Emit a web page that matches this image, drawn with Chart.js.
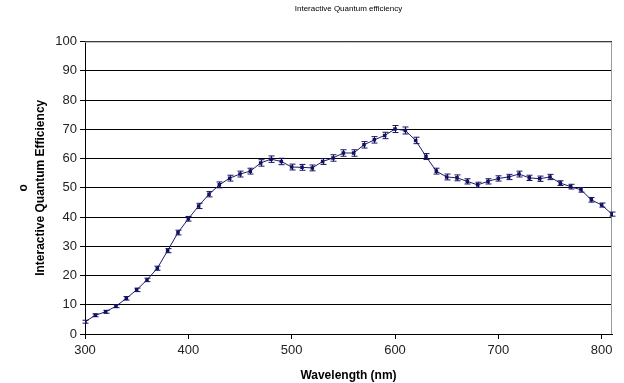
<!DOCTYPE html>
<html>
<head>
<meta charset="utf-8">
<script src="https://cdn.jsdelivr.net/npm/chart.js@4.4.0/dist/chart.umd.min.js"></script>
<style>
  html, body { margin: 0; padding: 0; background: #ffffff; }
  #wrap { width: 624px; height: 383px; }
</style>
</head>
<body>
<div id="wrap"><canvas id="qe-chart" width="624" height="383"></canvas></div>
<script>
// 파장 (nm)
const wavelengths = [300, 310, 320, 330, 340, 350, 360, 370, 380, 390,
  400, 410, 420, 430, 440, 450, 460, 470, 480, 490,
  500, 510, 520, 530, 540, 550, 560, 570, 580, 590,
  600, 610, 620, 630, 640, 650, 660, 670, 680, 690,
  700, 710, 720, 730, 740, 750, 760, 770, 780, 790,
  800, 810];

// 양자 효율 (%)
const efficiency = [4.2, 6.4, 7.6, 9.5, 12.2, 15.1, 18.5, 22.5, 28.5, 34.7,
  39.4, 43.8, 47.8, 51.0, 53.3, 54.7, 55.7, 58.5, 59.8, 59.0,
  57.1, 57.0, 56.8, 59.0, 60.2, 61.9, 61.9, 64.7, 66.4, 67.9,
  70.1, 69.6, 66.2, 60.7, 55.7, 53.7, 53.4, 52.2, 51.0, 52.2,
  53.2, 53.7, 54.7, 53.4, 53.1, 53.7, 51.6, 50.4, 49.3, 45.9,
  44.1, 41.0];

// 오차 (±)
const errors = [0.5, 0.5, 0.5, 0.5, 0.6, 0.6, 0.6, 0.7, 0.7, 0.8,
  0.8, 0.9, 0.9, 1.0, 1.0, 1.0, 1.0, 1.1, 1.1, 1.1,
  1.0, 1.0, 1.0, 1.0, 1.1, 1.1, 1.1, 1.1, 1.1, 1.1,
  1.2, 1.2, 1.1, 1.0, 1.0, 1.0, 1.0, 0.9, 0.9, 0.9,
  0.9, 0.9, 1.0, 0.9, 0.9, 0.9, 0.8, 0.8, 0.8, 0.8,
  0.7, 0.7];

const yTicks = [0, 10, 20, 30, 40, 50, 60, 70, 80, 90, 100];
const xTicks = [300, 400, 500, 600, 700, 800];

const lineColor = '#1c1c6e';
const markerColor = '#121260';

// 오차 막대 + 플롯 영역 테두리를 그리는 플러그인
const errorBarPlugin = {
  id: 'errorBars',
  beforeDatasetsDraw(chart) {
    const { ctx, chartArea } = chart;
    ctx.save();
    ctx.strokeStyle = '#9a9a9a';
    ctx.lineWidth = 1;
    ctx.beginPath();
    ctx.moveTo(chartArea.left, chartArea.top + 0.5);
    ctx.lineTo(chartArea.right - 0.5, chartArea.top + 0.5);
    ctx.lineTo(chartArea.right - 0.5, chartArea.bottom);
    ctx.stroke();
    ctx.restore();
  },
  afterDatasetsDraw(chart) {
    const { ctx } = chart;
    const xs = chart.scales.x, ys = chart.scales.y;
    ctx.save();
    ctx.strokeStyle = markerColor;
    ctx.lineWidth = 1;
    efficiency.forEach((v, i) => {
      const px = Math.round(xs.getPixelForValue(wavelengths[i])) + 0.5;
      const top = ys.getPixelForValue(v + errors[i]);
      const bot = ys.getPixelForValue(v - errors[i]);
      ctx.beginPath();
      ctx.moveTo(px, top); ctx.lineTo(px, bot);
      ctx.moveTo(px - 3, top); ctx.lineTo(px + 3, top);
      ctx.moveTo(px - 3, bot); ctx.lineTo(px + 3, bot);
      ctx.stroke();
    });
    ctx.restore();
  }
};

const ctx = document.getElementById('qe-chart').getContext('2d');
new Chart(ctx, {
  type: 'line',
  data: {
    datasets: [{
      data: wavelengths.map((w, i) => ({ x: w, y: efficiency[i] })),
      borderColor: lineColor,
      borderWidth: 1,
      backgroundColor: markerColor,
      pointStyle: 'rect',
      pointRadius: 2.5,
      pointBorderWidth: 0,
      tension: 0
    }]
  },
  plugins: [errorBarPlugin],
  options: {
    responsive: false,
    animation: false,
    layout: { padding: { left: 0, right: 12, top: 0, bottom: 0 } },
    plugins: {
      legend: { display: false },
      tooltip: { enabled: false },
      title: {
        display: true,
        text: 'Interactive Quantum efficiency',
        fullSize: false,
        color: '#000',
        font: { family: 'Liberation Sans', size: 8, weight: 'normal' },
        padding: { top: 4, bottom: 28 }
      }
    },
    scales: {
      x: {
        type: 'linear',
        min: 300,
        max: 810,
        afterBuildTicks: axis => { axis.ticks = xTicks.map(v => ({ value: v })); },
        afterFit: axis => { axis.height = 49; },
        ticks: {
          color: '#222',
          font: { family: 'Liberation Sans', size: 13 },
          padding: 4,
          maxRotation: 0
        },
        grid: { drawOnChartArea: false, tickLength: 5, color: '#000' },
        border: { color: '#000' },
        title: {
          display: true,
          text: 'Wavelength (nm)',
          color: '#000',
          font: { family: 'Liberation Sans', size: 12, weight: 'bold' },
          padding: { top: 2, bottom: 0 }
        }
      },
      y: {
        min: 0,
        max: 100,
        afterBuildTicks: axis => { axis.ticks = yTicks.map(v => ({ value: v })); },
        afterFit: axis => { axis.width = 85; },
        ticks: {
          color: '#222',
          font: { family: 'Liberation Sans', size: 13 },
          padding: 3
        },
        grid: { color: '#000', tickLength: 5 },
        border: { color: '#000' },
        title: {
          display: true,
          text: ['o', 'Interactive Quantum Efficiency'],
          color: '#000',
          font: { family: 'Liberation Sans', size: 12, weight: 'bold', lineHeight: 1.4 },
          padding: { top: 15, bottom: 0 }
        }
      }
    }
  }
});
</script>
</body>
</html>
